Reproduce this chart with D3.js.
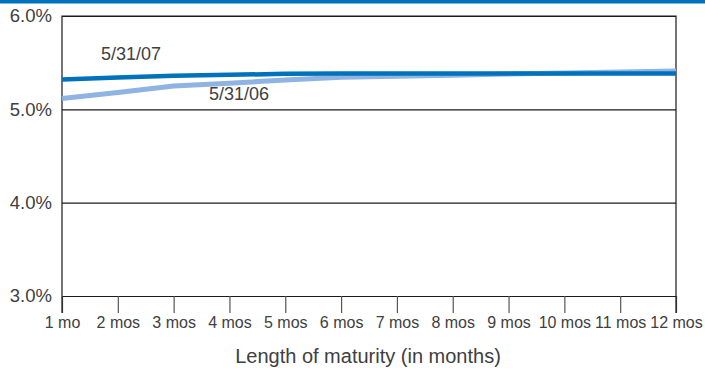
<!DOCTYPE html>
<html>
<head>
<meta charset="utf-8">
<script src="https://cdn.jsdelivr.net/npm/d3@7"></script>
<style>
  html, body { margin: 0; padding: 0; background: #fff; }
  svg { display: block; }
  text { font-family: "Liberation Sans", Arial, sans-serif; fill: #404040; }
</style>
</head>
<body>
<svg id="chart" width="705" height="368"></svg>
<script>
// Treasury yield curve: maturity (months) vs. yield (%)
const months = ["1 mo", "2 mos", "3 mos", "4 mos", "5 mos", "6 mos",
                "7 mos", "8 mos", "9 mos", "10 mos", "11 mos", "12 mos"];
const yield2007 = [5.32, 5.34, 5.36, 5.37, 5.38, 5.385, 5.385, 5.385, 5.385, 5.385, 5.385, 5.385];
const yield2006 = [5.115, 5.18, 5.25, 5.28, 5.315, 5.345, 5.355, 5.365, 5.378, 5.39, 5.40, 5.41];
const seriesNames = ["5/31/07", "5/31/06"];
const yTicks = [3, 4, 5, 6];
const xTitle = "Length of maturity (in months)";

const svg = d3.select("#chart");
const W = 705;
const m = { left: 62, right: 676, top: 16, bottom: 296 };

const x = d3.scalePoint().domain(months).range([m.left, m.right]);
const y = d3.scaleLinear().domain([3, 6]).range([m.bottom, m.top]);

// header band
svg.append("rect").attr("x", 0).attr("y", 0).attr("width", W).attr("height", 3.5)
  .attr("fill", "#0072bc");

// horizontal gridlines and y labels
const yAxis = d3.axisLeft(y).tickValues(yTicks).tickSize(-(m.right - m.left))
  .tickFormat(d => d3.format(".1f")(d) + "%").tickPadding(10);
const gy = svg.append("g").attr("transform", `translate(${m.left},0)`).call(yAxis);
gy.select(".domain").remove();
gy.selectAll(".tick line").attr("stroke", "#1a1a1a").attr("stroke-width", 1.2);
gy.selectAll(".tick text").attr("font-size", 18.5).attr("fill", "#404040")
  .style("font-family", "'Liberation Sans', Arial, sans-serif");

// x axis ticks below the plot
const xAxis = d3.axisBottom(x).tickSize(17).tickPadding(4);
const gx = svg.append("g").attr("transform", `translate(0,${m.bottom})`).call(xAxis);
gx.select(".domain").remove();
gx.selectAll(".tick line").attr("stroke", "#555").attr("stroke-width", 1.2);
gx.selectAll(".tick text").attr("font-size", 16).attr("fill", "#404040")
  .style("font-family", "'Liberation Sans', Arial, sans-serif");

// frame: left, top, right
svg.append("path")
  .attr("d", `M${m.left},${m.bottom + 17}V${m.top}H${m.right}V${m.bottom + 17}`)
  .attr("fill", "none").attr("stroke", "#1a1a1a").attr("stroke-width", 1.2);

const line = d3.line().x((d, i) => x(months[i])).y(d => y(d));

svg.append("path").datum(yield2006).attr("d", line)
  .attr("fill", "none").attr("stroke", "#8fb4e3").attr("stroke-width", 5);
svg.append("path").datum(yield2007).attr("d", line)
  .attr("fill", "none").attr("stroke", "#0072bc").attr("stroke-width", 4.5);

// series labels
svg.append("text").attr("x", 101).attr("y", 60).attr("font-size", 18).text(seriesNames[0]);
svg.append("text").attr("x", 209).attr("y", 100).attr("font-size", 18).text(seriesNames[1]);

// axis title
svg.append("text").attr("x", 368).attr("y", 363)
  .attr("text-anchor", "middle").attr("font-size", 20).text(xTitle);
</script>
</body>
</html>
